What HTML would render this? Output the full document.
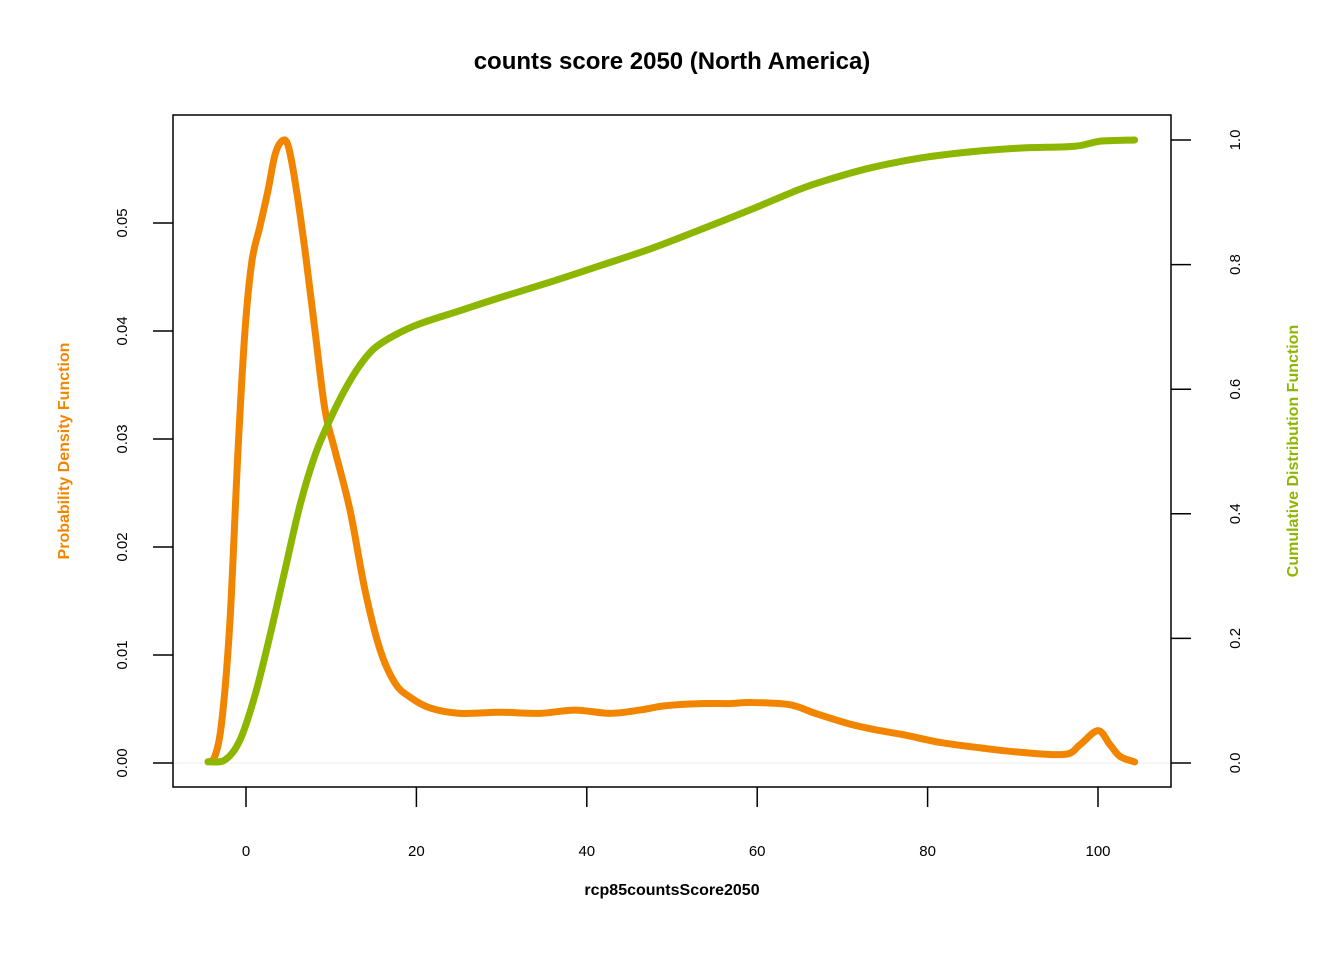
<!DOCTYPE html>
<html><head><meta charset="utf-8"><style>
body{margin:0;background:#fff}
svg{display:block;font-family:"Liberation Sans",sans-serif}
</style></head><body>
<svg id="chart" width="1344" height="960" viewBox="0 0 1344 960">
<rect width="1344" height="960" fill="#fff"/>
<text x="672" y="69" text-anchor="middle" font-size="24" font-weight="bold">counts score 2050 (North America)</text>
<line x1="173" y1="763" x2="1171" y2="763" stroke="#eee" stroke-width="1"/>
<g id="xaxis"></g>
<g id="lyaxis"></g>
<g id="ryaxis"></g>
<g id="series"></g>
<rect x="173" y="115" width="998" height="672" fill="none" stroke="#000" stroke-width="1.5"/>
<text x="672" y="895" text-anchor="middle" font-size="16" font-weight="bold">rcp85countsScore2050</text>
<text transform="translate(69,451) rotate(-90)" text-anchor="middle" font-size="16" font-weight="bold" fill="#F28500">Probability Density Function</text>
<text transform="translate(1298,451) rotate(-90)" text-anchor="middle" font-size="16" font-weight="bold" fill="#8DB600">Cumulative Distribution Function</text>
</svg>
<script>
const xTicks=[0,20,40,60,80,100];
const pdfTicks=[0,0.01,0.02,0.03,0.04,0.05];
const pdfTickLabels=["0.00","0.01","0.02","0.03","0.04","0.05"];
const cdfTicks=[0,0.2,0.4,0.6,0.8,1.0];
const cdfTickLabels=["0.0","0.2","0.4","0.6","0.8","1.0"];
const pdfX=[-4.46,-3.64,-2.82,-1.88,-0.94,-0.12,0.70,1.64,2.58,3.40,4.23,4.93,5.75,6.92,8.10,9.27,10.45,12.21,13.97,15.73,17.49,19.25,21.6,25.1,29.8,34.5,38.6,42.7,46.2,49.2,53.3,56.8,59.2,63.8,66.8,70.9,74.4,77.3,81.5,86.2,90.8,96.1,97.9,100,101.4,102.6,104.3];
const pdfY=[0.0001,0.00065,0.0040,0.0132,0.0289,0.0400,0.0465,0.0497,0.0530,0.0563,0.0576,0.0572,0.0539,0.0475,0.0400,0.0327,0.0289,0.0234,0.0160,0.0105,0.0074,0.0061,0.0051,0.0046,0.0047,0.0046,0.0049,0.0046,0.0049,0.0053,0.0055,0.0055,0.0056,0.0054,0.0046,0.0036,0.0030,0.0026,0.0019,0.0014,0.0010,0.0008,0.0017,0.0030,0.0017,0.0006,0.0001];
const cdfX=[-4.46,-2.46,-0.70,1.06,2.82,4.58,6.34,8.10,9.86,11.6,13.4,15.1,17.5,20.4,25.1,29.8,35.7,41.5,47.4,53.3,59.2,65.0,68.5,73.2,79.1,85.0,90.8,97.3,100.2,104.3];
const cdfY=[0.002,0.005,0.037,0.109,0.205,0.310,0.414,0.494,0.551,0.599,0.639,0.666,0.687,0.705,0.726,0.747,0.772,0.798,0.825,0.856,0.888,0.921,0.937,0.955,0.971,0.981,0.987,0.990,0.998,1.000];

const NS="http://www.w3.org/2000/svg";
const sx=v=>246+v*8.52;
const syL=v=>763-v*10800;
const syR=v=>763-v*623;
function mk(tag,attrs,parent){const e=document.createElementNS(NS,tag);for(const k in attrs)e.setAttribute(k,attrs[k]);parent.appendChild(e);return e;}
const xa=document.getElementById('xaxis');
xTicks.forEach(t=>{
  const l=mk('line',{x1:sx(t),x2:sx(t),y1:787,y2:807,stroke:'#000','stroke-width':1.5},xa);
  
  
  const tx=mk('text',{x:sx(t),y:856,'text-anchor':'middle','font-size':15},xa);
  
  
  tx.textContent=t;
});
const la=document.getElementById('lyaxis');
pdfTicks.forEach((t,i)=>{
  const l=mk('line',{x1:153,x2:173,y1:syL(t),y2:syL(t),stroke:'#000','stroke-width':1.5},la);
  
  
  const tx=mk('text',{transform:`translate(127,${syL(t)}) rotate(-90)`,'text-anchor':'middle','font-size':15},la);
  
  
  tx.textContent=pdfTickLabels[i];
});
const ra=document.getElementById('ryaxis');
cdfTicks.forEach((t,i)=>{
  const l=mk('line',{x1:1171,x2:1191,y1:syR(t),y2:syR(t),stroke:'#000','stroke-width':1.5},ra);
  
  
  const tx=mk('text',{transform:`translate(1240,${syR(t)}) rotate(-90)`,'text-anchor':'middle','font-size':15},ra);
  
  
  tx.textContent=cdfTickLabels[i];
});
function smooth(pts){
  let d=`M${pts[0][0]},${pts[0][1]}`;
  for(let i=0;i<pts.length-1;i++){
    const p0=pts[Math.max(0,i-1)],p1=pts[i],p2=pts[i+1],p3=pts[Math.min(pts.length-1,i+2)];
    const c1=[p1[0]+(p2[0]-p0[0])/6,p1[1]+(p2[1]-p0[1])/6];
    const c2=[p2[0]-(p3[0]-p1[0])/6,p2[1]-(p3[1]-p1[1])/6];
    d+=` C${c1[0]},${c1[1]} ${c2[0]},${c2[1]} ${p2[0]},${p2[1]}`;
  }
  return d;
}
const sg=document.getElementById('series');
const cdf=mk('path',{d:smooth(cdfX.map((x,i)=>[sx(x),syR(cdfY[i])])),fill:'none',stroke:'#8DB600','stroke-width':7,'stroke-linecap':'round','stroke-linejoin':'round'},sg);


const pdf=mk('path',{d:smooth(pdfX.map((x,i)=>[sx(x),syL(pdfY[i])])),fill:'none',stroke:'#F28500','stroke-width':7,'stroke-linecap':'round','stroke-linejoin':'round'},sg);


sg.insertBefore(pdf,cdf);
</script>
</body></html>
